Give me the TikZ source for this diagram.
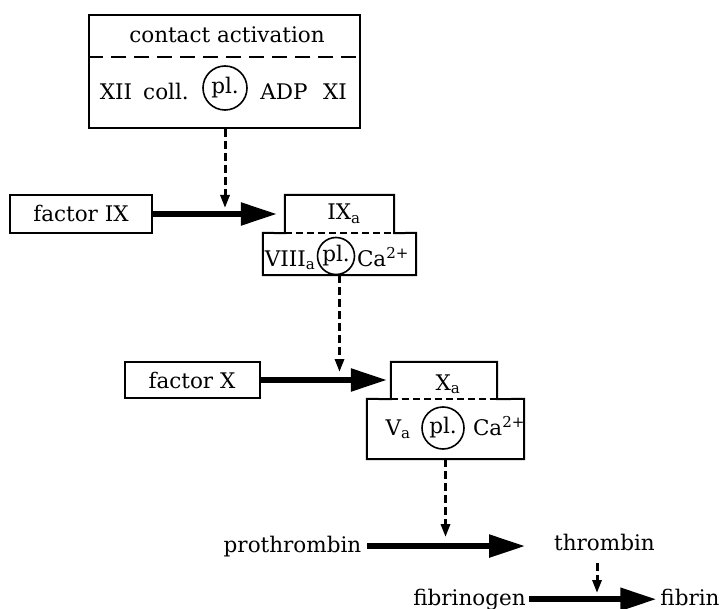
\documentclass[tikz,border=0pt]{standalone}
\usepackage{fontspec}
\setmainfont{DejaVu Serif}
\usetikzlibrary{arrows.meta}
\begin{document}
\begin{tikzpicture}[x=1pt,y=-1pt,
  font=\fontsize{21.5}{26}\selectfont,
  lbl/.style={inner sep=0pt,anchor=base},
  frame/.style={draw,line width=2pt,inner sep=0pt},
  area/.style={inner sep=0pt},
  plc/.style={draw,circle,line width=1.6pt,inner sep=0pt,minimum size=#1},
  bigarrow/.style={line width=5.5pt,-{Triangle[length=36pt,width=22pt]}},
  dasharrow/.style={line width=3pt,dash pattern=on 8pt off 4pt,-{Triangle[length=13pt,width=9pt]}},
  sepline/.style={line width=1.8pt,dash pattern=on 7pt off 4pt},
  outline/.style={line width=2pt,line join=miter}]
\useasboundingbox (0,0) rectangle (727,609);

% contact activation box
\node[frame,minimum width=271pt,minimum height=113pt] (top) at (224.5,71.5) {};
\coordinate (s1) at (0,57);
\draw[line width=1.8pt,dash pattern=on 15pt off 8pt] (top.west |- s1) -- (top.east |- s1);
\node[lbl] (cact) at (227,43) {contact activation};
\node[lbl] (xii) at (116,100) {XII};
\node[lbl] (coll) at (166,100) {coll.};
\node[plc=44pt] (pl1) at (225,88) {pl.};
\node[lbl] (adp) at (284,100) {ADP};
\node[lbl] (xi) at (335,100) {XI};

% factor IX
\node[frame,minimum width=142pt,minimum height=38pt] (fix) at (81,214) {};
\node[lbl] (fixt) at (81,222) {factor IX};

% IXa complex
\node[area,minimum width=109pt,minimum height=38pt] (ixu) at (339.5,214) {};
\node[area,minimum width=153pt,minimum height=42pt] (ixl) at (339.5,254) {};
\draw[outline] (ixl.north west) -- (ixu.south west) -- (ixu.north west) -- (ixu.north east)
  -- (ixu.south east) -- (ixl.north east) -- (ixl.south east) -- (ixl.south west) -- cycle;
\draw[sepline] (ixu.south west) -- (ixu.south east);
\node[lbl] (ixa) at (344,220) {IX\textsubscript{a}};
\node[lbl] (viii) at (290,266) {VIII\textsubscript{a}};
\node[plc=37pt] (pl2) at (336,256) {pl.};
\node[lbl] (ca1) at (383,266) {Ca\textsuperscript{2+}};

% factor X
\node[frame,minimum width=135pt,minimum height=36pt] (fx) at (192.5,380) {};
\node[lbl] (fxt) at (192,388) {factor X};

% Xa complex
\node[area,minimum width=106pt,minimum height=37pt] (xu) at (444,380.5) {};
\node[area,minimum width=157pt,minimum height=60pt] (xl) at (445.5,429) {};
\draw[outline] (xl.north west) -- (xu.south west) -- (xu.north west) -- (xu.north east)
  -- (xu.south east) -- (xl.north east) -- (xl.south east) -- (xl.south west) -- cycle;
\draw[sepline] (xu.south west) -- (xu.south east);
\node[lbl] (xa) at (448,390) {X\textsubscript{a}};
\node[lbl] (va) at (398,435) {V\textsubscript{a}};
\node[plc=42pt] (pl3) at (443,428) {pl.};
\node[lbl] (ca2) at (499,435) {Ca\textsuperscript{2+}};

% bottom texts
\node[lbl] (pro) at (292.5,552) {prothrombin};
\node[lbl] (thr) at (604.5,550) {thrombin};
\node[lbl] (fbg) at (469.5,605) {fibrinogen};
\node[lbl] (fbn) at (690,605) {fibrin};

% thick arrows
\draw[bigarrow,shorten >=8pt] (fix.east) -- (fix.east -| ixu.west);
\draw[bigarrow,shorten >=4pt] (fx.east) -- (fx.east -| xu.west);
\draw[bigarrow,shorten <=6pt,shorten >=29pt] (pro.east) -- (pro.east -| thr.west);
\draw[bigarrow,shorten <=3pt,shorten >=4pt] (fbg.east) -- (fbg.east -| fbn.west);

% dashed arrows
\coordinate (m1) at (225,215);
\draw[dasharrow,shorten >=7pt] (m1 |- top.south) -- (m1);
\draw[dasharrow,shorten >=8pt] (ixl.south) -- (ixl.south |- fx.east);
\draw[dasharrow,shorten >=9pt] (xl.south) -- (xl.south |- pro.east);
\coordinate (m4) at (597,600);
\draw[dasharrow,shorten <=12pt,shorten >=7pt] (m4 |- thr.south) -- (m4);
\end{tikzpicture}
\end{document}
